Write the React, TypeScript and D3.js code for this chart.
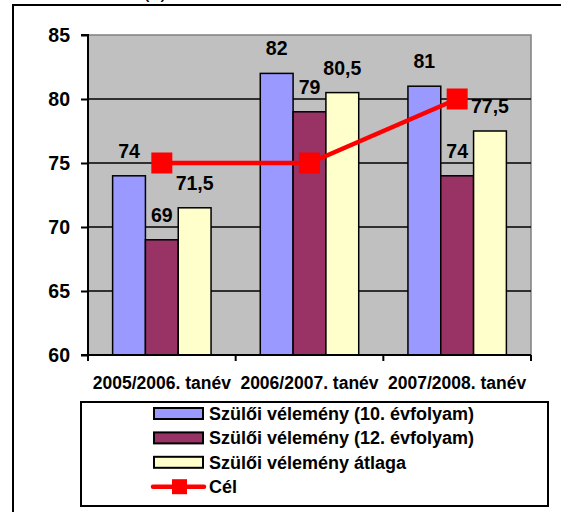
import React, { useEffect, useRef } from 'react';
import * as d3 from 'd3';

const categories = ['2005/2006. tanév', '2006/2007. tanév', '2007/2008. tanév'];
const seriesNames = [
  'Szülői vélemény (10. évfolyam)',
  'Szülői vélemény (12. évfolyam)',
  'Szülői vélemény átlaga',
];
const grade10 = [74, 82, 81];
const grade12 = [69, 79, 74];
const average = [71.5, 80.5, 77.5];
const target = [75, 75, 80];
const targetName = 'Cél';
const yTicks = [60, 65, 70, 75, 80, 85];

const colors = ['#9999FF', '#993366', '#FFFFCC'];
const FONT = '"Liberation Sans", Arial, sans-serif';

const App: React.FC = () => {
  const svgRef = useRef<SVGSVGElement | null>(null);

  useEffect(() => {
    if (!svgRef.current) return;
    const svg = d3.select(svgRef.current);
    svg.selectAll('*').remove();

    const plot = { left: 88, right: 531, top: 35, bottom: 355 };

    // outer frame (clipped by the window on right and bottom)
    svg.append('rect')
      .attr('x', 13).attr('y', 5)
      .attr('width', 600).attr('height', 600)
      .attr('fill', 'white')
      .attr('stroke', '#000').attr('stroke-width', 2);

    svg.append('text')
      .attr('x', 155).attr('y', -2)
      .attr('text-anchor', 'middle')
      .attr('font-family', FONT).attr('font-size', 20)
      .text('(a)');

    const y = d3.scaleLinear().domain([60, 85]).range([plot.bottom, plot.top]);
    const x0 = d3.scaleBand<string>().domain(categories).range([plot.left, plot.right]);
    const bw = x0.bandwidth();
    const x1 = d3.scaleBand<number>().domain([0, 1, 2]).range([bw / 6, bw - bw / 6]);

    // plot area
    svg.append('rect')
      .attr('x', plot.left).attr('y', plot.top)
      .attr('width', plot.right - plot.left).attr('height', plot.bottom - plot.top)
      .attr('fill', '#C0C0C0')
      .attr('stroke', '#808080').attr('stroke-width', 1.5);

    // gridlines
    svg.append('g')
      .selectAll('line')
      .data(yTicks.filter(t => t > 60 && t < 85))
      .join('line')
      .attr('x1', plot.left).attr('x2', plot.right)
      .attr('y1', d => y(d)).attr('y2', d => y(d))
      .attr('stroke', '#000').attr('stroke-width', 1.3);

    // bars
    const seriesData = [grade10, grade12, average];
    seriesData.forEach((vals, si) => {
      const g = svg.append('g');
      g.selectAll('rect')
        .data(vals)
        .join('rect')
        .attr('x', (_, i) => x0(categories[i])! + x1(si)!)
        .attr('y', d => y(d))
        .attr('width', x1.bandwidth())
        .attr('height', d => plot.bottom - y(d))
        .attr('fill', colors[si])
        .attr('stroke', '#000').attr('stroke-width', 1.5);
      g.selectAll('text')
        .data(vals)
        .join('text')
        .attr('x', (_, i) => x0(categories[i])! + x1(si)! + x1.bandwidth() / 2)
        .attr('y', d => y(d) - 18)
        .attr('text-anchor', 'middle')
        .attr('font-family', FONT).attr('font-weight', 'bold').attr('font-size', 19.5)
        .text(d => String(d).replace('.', ','));
    });

    // target line
    const cx = (i: number) => x0(categories[i])! + bw / 2;
    const line = d3.line<number>().x((_, i) => cx(i)).y(d => y(d));
    svg.append('path')
      .datum(target)
      .attr('d', line)
      .attr('fill', 'none')
      .attr('stroke', '#FF0000').attr('stroke-width', 4.5);
    svg.append('g')
      .selectAll('rect')
      .data(target)
      .join('rect')
      .attr('x', (_, i) => cx(i) - 10.5)
      .attr('y', d => y(d) - 10.5)
      .attr('width', 21).attr('height', 21)
      .attr('fill', '#FF0000');

    // y axis
    const yAxis = svg.append('g')
      .attr('transform', `translate(${plot.left},0)`)
      .call(d3.axisLeft(y).tickValues(yTicks).tickSize(7).tickPadding(11));
    yAxis.select('.domain').attr('stroke-width', 2).attr('d', `M-7,${plot.top}H0V${plot.bottom}H-7`);
    yAxis.selectAll('line').attr('stroke-width', 2);
    yAxis.selectAll('text')
      .attr('font-family', FONT).attr('font-weight', 'bold').attr('font-size', 19.5)
      .attr('fill', '#000');

    // x axis
    const xg = svg.append('g');
    xg.append('line')
      .attr('x1', plot.left).attr('x2', plot.right)
      .attr('y1', plot.bottom).attr('y2', plot.bottom)
      .attr('stroke', '#000').attr('stroke-width', 2);
    xg.selectAll('line.tick')
      .data([...categories.map(c => x0(c)!), plot.right])
      .join('line')
      .attr('class', 'tick')
      .attr('x1', d => d).attr('x2', d => d)
      .attr('y1', plot.bottom).attr('y2', plot.bottom + 6)
      .attr('stroke', '#000').attr('stroke-width', 2);
    xg.selectAll('text')
      .data(categories)
      .join('text')
      .attr('x', d => x0(d)! + bw / 2)
      .attr('y', 389)
      .attr('text-anchor', 'middle')
      .attr('font-family', FONT).attr('font-weight', 'bold').attr('font-size', 17.5)
      .text(d => d);

    // legend
    const legend = svg.append('g');
    legend.append('rect')
      .attr('x', 81).attr('y', 402)
      .attr('width', 467).attr('height', 104)
      .attr('fill', 'white')
      .attr('stroke', '#000').attr('stroke-width', 2);
    const rowY = (i: number) => 413.5 + i * 24.4;
    seriesNames.forEach((name, i) => {
      legend.append('rect')
        .attr('x', 154).attr('y', rowY(i) - 5.5)
        .attr('width', 49).attr('height', 11)
        .attr('fill', colors[i])
        .attr('stroke', '#000').attr('stroke-width', 2);
      legend.append('text')
        .attr('x', 209).attr('y', rowY(i) + 6.5)
        .attr('font-family', FONT).attr('font-weight', 'bold').attr('font-size', 18)
        .text(name);
    });
    legend.append('line')
      .attr('x1', 153).attr('x2', 204)
      .attr('y1', rowY(3)).attr('y2', rowY(3))
      .attr('stroke', '#FF0000').attr('stroke-width', 4.5)
      .attr('stroke-linecap', 'round');
    legend.append('rect')
      .attr('x', 172).attr('y', rowY(3) - 7.5)
      .attr('width', 15).attr('height', 15)
      .attr('fill', '#FF0000');
    legend.append('text')
      .attr('x', 209).attr('y', rowY(3) + 6.5)
      .attr('font-family', FONT).attr('font-weight', 'bold').attr('font-size', 18)
      .text(targetName);
  }, []);

  return (
    <svg
      ref={svgRef}
      width={561}
      height={512}
      style={{ position: 'absolute', left: 0, top: 0, display: 'block' }}
    />
  );
};

export default App;
